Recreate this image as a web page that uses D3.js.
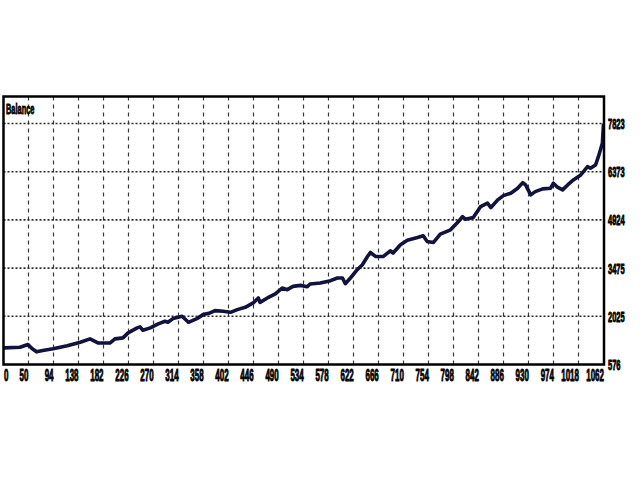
<!DOCTYPE html>
<html>
<head>
<meta charset="utf-8">
<script src="https://cdn.jsdelivr.net/npm/d3@7"></script>
<style>
  html, body { margin: 0; padding: 0; background: #ffffff; }
  svg { display: block; }
</style>
</head>
<body>
<div id="chart"></div>
<script>
// ---- data ----
const chartTitle = "Balance";
const tradeIndex = [8,36,50,57,65,76,94,119,142,159,173,194,203,217,226,242,247,252,265,279,291,296,305,321,332,347,358,370,379,393,406,418,432,446,455,458,471,485,497,506,516,529,541,546,564,582,594,603,608,617,629,638,647,652,661,675,687,692,705,717,735,745,752,763,775,793,807,814,819,833,846,858,864,876,886,899,911,920,925,934,942,955,969,974,981,990,999,1009,1022,1034,1039,1048,1053,1060,1062];
const balance = [1077,1095,1176,1056,957,996,1047,1137,1245,1347,1227,1221,1347,1377,1527,1677,1707,1605,1677,1797,1875,1845,1956,2025,1845,1956,2076,2127,2196,2175,2145,2226,2295,2427,2577,2445,2577,2697,2877,2826,2925,2955,2916,2997,3027,3096,3177,3177,3006,3177,3426,3576,3825,3945,3825,3825,3996,3927,4176,4311,4395,4446,4275,4245,4497,4626,4875,5025,4947,4995,5325,5427,5295,5526,5655,5727,5877,6045,5976,5676,5775,5856,5877,6027,5907,5826,5976,6126,6276,6525,6477,6576,6825,7227,7823];
const xTickLabels = [0,50,94,138,182,226,270,314,358,402,446,490,534,578,622,666,710,754,798,842,886,930,974,1018,1062];
const yTickLabels = [576,2025,3475,4924,6373,7823];

// ---- layout ----
const W = 640, H = 480;
const pL = 3.5, pR = 604, pT = 96.5, pB = 364.5;

const svg = d3.select("#chart").append("svg")
  .attr("width", W).attr("height", H);

const x = d3.scaleLinear().domain([50, 1062]).range([28, 603.5]);
const y = d3.scaleLinear().domain([576, 7823]).range([364.5, 123.5]);

svg.append("defs").append("clipPath").attr("id", "plotclip")
  .append("rect").attr("x", pL).attr("y", pT)
  .attr("width", pR - pL).attr("height", pB - pT);

// vertical dashed grid
svg.append("g").selectAll("line")
  .data(xTickLabels.filter(d => d > 0 && d < 1062))
  .join("line")
  .attr("x1", d => Math.round(x(d)) + 0.5).attr("x2", d => Math.round(x(d)) + 0.5)
  .attr("y1", pT).attr("y2", pB)
  .attr("stroke", "#3a3a3a").attr("stroke-width", 1.2)
  .attr("stroke-dasharray", "4,4");

// horizontal dotted grid
svg.append("g").selectAll("line")
  .data(yTickLabels.filter(d => d > 576))
  .join("line")
  .attr("x1", pL).attr("x2", pR)
  .attr("y1", d => y(d)).attr("y2", d => y(d))
  .attr("stroke", "#2a2a2a").attr("stroke-width", 1.6)
  .attr("stroke-dasharray", "2,2");

// balance line
const pts = tradeIndex.map((t, i) => [t, balance[i]]);
svg.append("path")
  .datum(pts)
  .attr("clip-path", "url(#plotclip)")
  .attr("fill", "none")
  .attr("stroke", "#12123f")
  .attr("stroke-width", 3.6)
  .attr("stroke-linejoin", "round")
  .attr("d", d3.line().x(d => x(d[0])).y(d => y(d[1])));

// frame
svg.append("rect")
  .attr("x", pL).attr("y", pT)
  .attr("width", pR - pL).attr("height", pB - pT)
  .attr("fill", "none").attr("stroke", "#000").attr("stroke-width", 2.5);

const font = "'Liberation Sans', Arial, sans-serif";
const sx = 0.5;

// title
svg.append("text")
  .attr("transform", `translate(6,114) scale(0.53,1)`)
  .attr("font-family", font).attr("font-weight", "bold").attr("font-size", 14)
  .attr("fill", "#000").attr("stroke", "#000").attr("stroke-width", 0.8)
  .text(chartTitle);

// x labels
svg.append("g").selectAll("text")
  .data(xTickLabels)
  .join("text")
  .attr("transform", d => d === 0
      ? `translate(4,381) scale(${sx},1)`
      : `translate(${x(d) + 0.5},381) scale(${sx},1)`)
  .attr("text-anchor", d => d === 0 ? "start" : "end")
  .attr("font-family", font).attr("font-weight", "bold").attr("font-size", 16)
  .attr("fill", "#000").attr("stroke", "#000").attr("stroke-width", 0.9)
  .text(d => d);

// y labels
svg.append("g").selectAll("text")
  .data(yTickLabels)
  .join("text")
  .attr("transform", d => `translate(608,${y(d) + 5.5}) scale(${sx},1)`)
  .attr("text-anchor", "start")
  .attr("font-family", font).attr("font-weight", "bold").attr("font-size", 15)
  .attr("fill", "#000").attr("stroke", "#000").attr("stroke-width", 0.9)
  .text(d => d);
</script>
</body>
</html>
